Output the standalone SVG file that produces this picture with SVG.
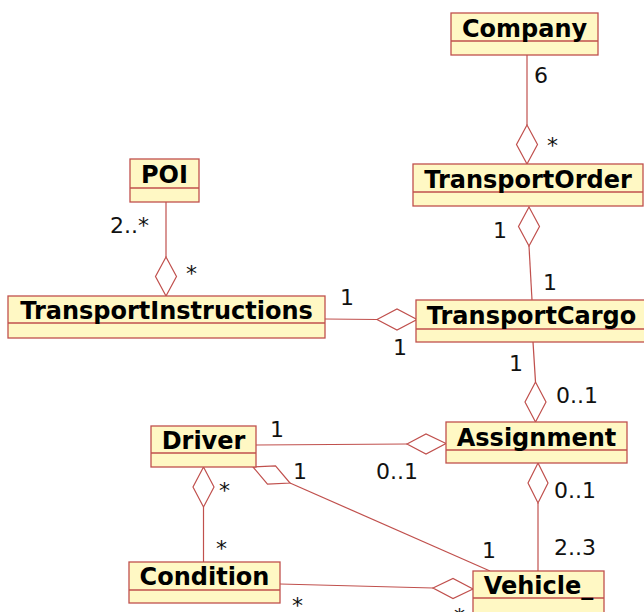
<svg xmlns="http://www.w3.org/2000/svg" width="644" height="612" viewBox="0 0 644 612">
<style>
.box{fill:#fff8c4;stroke:#c0504d;stroke-width:1.3}
.sep{stroke:#c0504d;stroke-width:1.3}
.name{font-family:"DejaVu Sans",Verdana,sans-serif;font-weight:bold;font-size:24px;fill:#000;text-anchor:middle}
.ln{stroke:#c0504d;stroke-width:1.2;fill:none}
.dm{stroke:#c0504d;stroke-width:1.2;fill:#fff}
.m{font-family:"DejaVu Sans",Verdana,sans-serif;font-size:22px;fill:#111}
</style>
<rect width="644" height="612" fill="#fff"/>
<g id="connectors">
<line class="ln" x1="527" y1="55" x2="527" y2="125"/>
<polygon class="dm" points="527,125 537.5,144.5 527,164 516.5,144.5"/>
<polygon class="dm" points="529,207 539.5,226.5 529,246 518.5,226.5"/>
<line class="ln" x1="529" y1="246" x2="532" y2="300"/>
<line class="ln" x1="166" y1="202" x2="166" y2="257"/>
<polygon class="dm" points="166,257 176.5,276.5 166,296 155.5,276.5"/>
<line class="ln" x1="325" y1="319" x2="377" y2="319.5"/>
<polygon class="dm" points="377,319.5 397,309 417,319.5 397,330"/>
<line class="ln" x1="533" y1="342" x2="535.5" y2="382"/>
<polygon class="dm" points="535.5,382 546,402 535.5,422 525,402"/>
<line class="ln" x1="256" y1="445" x2="407" y2="444"/>
<polygon class="dm" points="407,444 426,434 446,443.5 426,454"/>
<polygon class="dm" points="253,467 275.5,465.8 290,483 267.5,484.2"/>
<line class="ln" x1="290" y1="483" x2="490" y2="571"/>
<polygon class="dm" points="203.5,467 214,487 203.5,507 193,487"/>
<line class="ln" x1="203.5" y1="507" x2="203.5" y2="562"/>
<line class="ln" x1="280" y1="584" x2="433" y2="588"/>
<polygon class="dm" points="433,588 453,578.5 473,589 453,598.5"/>
<polygon class="dm" points="538,463 548,483 538,503 528,483"/>
<line class="ln" x1="538" y1="503" x2="538" y2="571"/>
</g>
<g id="labels">
<text class="m" x="534" y="83">6</text>
<text class="m" x="547" y="153">*</text>
<text class="m" x="493" y="238">1</text>
<text class="m" x="543" y="290">1</text>
<text class="m" x="110" y="233">2..*</text>
<text class="m" x="186" y="281">*</text>
<text class="m" x="340" y="305">1</text>
<text class="m" x="393" y="355">1</text>
<text class="m" x="509" y="371">1</text>
<text class="m" x="556" y="403">0..1</text>
<text class="m" x="270" y="437">1</text>
<text class="m" x="293" y="479">1</text>
<text class="m" x="376" y="479">0..1</text>
<text class="m" x="219" y="498">*</text>
<text class="m" x="216" y="556">*</text>
<text class="m" x="292" y="613">*</text>
<text class="m" x="454" y="624">*</text>
<text class="m" x="554" y="498">0..1</text>
<text class="m" x="554" y="555">2..3</text>
<text class="m" x="482" y="558">1</text>
</g>
<g id="Company">
<rect class="box" x="451" y="13" width="147" height="42"/>
<line class="sep" x1="451" y1="41" x2="598" y2="41"/>
<text class="name" x="524.5" y="37">Company</text>
</g>
<g id="TransportOrder">
<rect class="box" x="413" y="164" width="230" height="42"/>
<line class="sep" x1="413" y1="192" x2="643" y2="192"/>
<text class="name" x="528" y="188">TransportOrder</text>
</g>
<g id="POI">
<rect class="box" x="130" y="159" width="69" height="43"/>
<line class="sep" x1="130" y1="188" x2="199" y2="188"/>
<text class="name" x="164.5" y="183">POI</text>
</g>
<g id="TransportInstructions">
<rect class="box" x="8" y="296" width="317" height="42"/>
<line class="sep" x1="8" y1="323" x2="325" y2="323"/>
<text class="name" x="166.5" y="319">TransportInstructions</text>
</g>
<g id="TransportCargo">
<rect class="box" x="416" y="300" width="231" height="42"/>
<line class="sep" x1="416" y1="329" x2="647" y2="329"/>
<text class="name" x="531.5" y="324">TransportCargo</text>
</g>
<g id="Assignment">
<rect class="box" x="446" y="422" width="181" height="41"/>
<line class="sep" x1="446" y1="450" x2="627" y2="450"/>
<text class="name" x="536.5" y="446">Assignment</text>
</g>
<g id="Driver">
<rect class="box" x="151" y="426" width="105" height="41"/>
<line class="sep" x1="151" y1="453" x2="256" y2="453"/>
<text class="name" x="203.5" y="449">Driver</text>
</g>
<g id="Condition">
<rect class="box" x="129" y="562" width="151" height="41"/>
<line class="sep" x1="129" y1="590" x2="280" y2="590"/>
<text class="name" x="204.5" y="585">Condition</text>
</g>
<g id="Vehicle_">
<rect class="box" x="473" y="571" width="131" height="50"/>
<line class="sep" x1="473" y1="598" x2="604" y2="598"/>
<text class="name" x="538.5" y="594">Vehicle_</text>
</g>
</svg>
